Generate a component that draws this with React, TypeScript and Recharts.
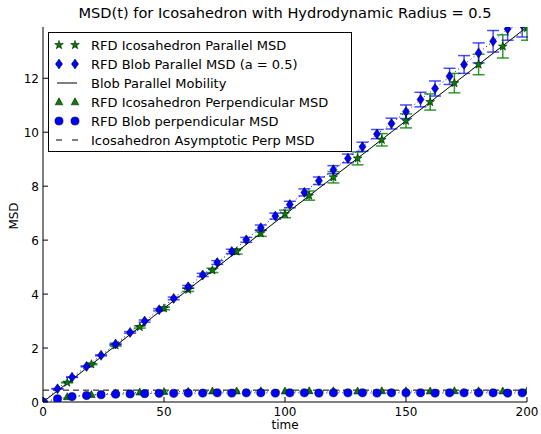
import React from "react";
import { ComposedChart, Scatter, Line, XAxis, YAxis, ErrorBar } from "recharts";

const blobTimes = [0, 6, 12, 18, 24, 30, 36, 42, 48, 54, 60, 66, 72, 78, 84, 90, 96, 102, 108, 114, 120, 126, 132, 138, 144, 150, 156, 162, 168, 174, 180, 186, 192, 198];
const blobParMsd = [0, 0.49, 0.92, 1.32, 1.73, 2.15, 2.58, 3.0, 3.42, 3.84, 4.27, 4.71, 5.17, 5.58, 6.01, 6.46, 6.89, 7.32, 7.77, 8.2, 8.61, 9.03, 9.46, 9.93, 10.32, 10.76, 11.21, 11.62, 12.07, 12.51, 12.94, 13.37, 13.83, 13.98];
const blobParErr = [0, 0.01, 0.01, 0.02, 0.02, 0.03, 0.03, 0.04, 0.04, 0.05, 0.05, 0.06, 0.07, 0.08, 0.09, 0.1, 0.11, 0.12, 0.13, 0.14, 0.15, 0.16, 0.17, 0.17, 0.2, 0.25, 0.27, 0.28, 0.3, 0.33, 0.37, 0.4, 0.42, 0.45];
const blobPerpMsd = [0, 0.12, 0.2, 0.24, 0.27, 0.29, 0.3, 0.31, 0.32, 0.32, 0.33, 0.33, 0.34, 0.33, 0.34, 0.34, 0.33, 0.34, 0.34, 0.33, 0.34, 0.34, 0.34, 0.33, 0.34, 0.34, 0.34, 0.33, 0.34, 0.34, 0.34, 0.34, 0.33, 0.34];

const icoTimes = [10, 20, 30, 40, 50, 60, 70, 80, 90, 100, 110, 120, 130, 140, 150, 160, 170, 180, 190, 200];
const icoParMsd = [0.72, 1.4, 2.1, 2.78, 3.47, 4.16, 4.88, 5.58, 6.26, 6.97, 7.65, 8.33, 9.03, 9.72, 10.42, 11.12, 11.82, 12.51, 13.18, 13.86];
const icoParErr = [0.01, 0.02, 0.03, 0.04, 0.05, 0.06, 0.08, 0.1, 0.12, 0.14, 0.17, 0.21, 0.24, 0.23, 0.26, 0.3, 0.36, 0.38, 0.43, 0.45];
const icoPerpMsd = [0.19, 0.27, 0.33, 0.36, 0.38, 0.39, 0.4, 0.4, 0.41, 0.4, 0.41, 0.41, 0.4, 0.41, 0.41, 0.4, 0.41, 0.41, 0.4, 0.41];

const mobilityT = [0, 200];
const mobilityMsd = [0, 13.9];
const asymT = [0, 200];
const asymMsd = [0.44, 0.44];

const xTicks = [0, 50, 100, 150, 200];
const yTicks = [0, 2, 4, 6, 8, 10, 12];

const legendLabels = [
  "RFD Icosahedron Parallel MSD",
  "RFD Blob Parallel MSD (a = 0.5)",
  "Blob Parallel Mobility",
  "RFD Icosahedron Perpendicular MSD",
  "RFD Blob perpendicular MSD",
  "Icosahedron Asymptotic Perp MSD",
];

const BLUE = "#0000ff";
const GREEN = "#008000";
const FONT = '"DejaVu Sans", sans-serif';
const MARGIN = { top: 27, right: 14, bottom: 0, left: 0 };

const zip = (ts: number[], vs: number[], es?: number[]) =>
  ts.map((t, i) => ({ t, v: vs[i], e: es ? es[i] : 0 }));

const icoPar = zip(icoTimes, icoParMsd, icoParErr);
const blobPar = zip(blobTimes, blobParMsd, blobParErr);
const icoPerp = zip(icoTimes, icoPerpMsd);
const blobPerp = zip(blobTimes, blobPerpMsd);
const mobility = zip(mobilityT, mobilityMsd);
const asym = zip(asymT, asymMsd);

// markers, roughly matplotlib's '*', 'd', '^', 'o'
const Star = ({ cx, cy }: { cx: number; cy: number }) => {
  const pts: string[] = [];
  for (let i = 0; i < 10; i++) {
    const r = i % 2 === 0 ? 4.6 : 1.9;
    const a = -Math.PI / 2 + (i * Math.PI) / 5;
    pts.push(`${cx + r * Math.cos(a)},${cy + r * Math.sin(a)}`);
  }
  return <polygon points={pts.join(" ")} fill={GREEN} stroke="#000" strokeWidth={0.5} />;
};
const Diamond = ({ cx, cy }: { cx: number; cy: number }) => (
  <polygon
    points={`${cx},${cy - 5} ${cx + 3.5},${cy} ${cx},${cy + 5} ${cx - 3.5},${cy}`}
    fill={BLUE} stroke="#000" strokeWidth={0.5}
  />
);
const Tri = ({ cx, cy }: { cx: number; cy: number }) => (
  <polygon
    points={`${cx},${cy - 4.2} ${cx + 3.8},${cy + 2.8} ${cx - 3.8},${cy + 2.8}`}
    fill={GREEN} stroke="#000" strokeWidth={0.5}
  />
);
const Dot = ({ cx, cy }: { cx: number; cy: number }) => (
  <circle cx={cx} cy={cy} r={4.1} fill={BLUE} stroke="#000" strokeWidth={0.5} />
);

// inward ticks like matplotlib
const BottomTick = ({ x, y, payload }: any) => (
  <g>
    <line x1={x} x2={x} y1={y} y2={y - 5} stroke="#000" />
    <text x={x} y={y + 14} textAnchor="middle" fontSize={12} fontFamily={FONT} fill="#000">{payload.value}</text>
  </g>
);
const LeftTick = ({ x, y, payload }: any) => (
  <g>
    <line x1={x} x2={x + 5} y1={y} y2={y} stroke="#000" />
    <text x={x - 4} y={y + 4.5} textAnchor="end" fontSize={12} fontFamily={FONT} fill="#000">{payload.value}</text>
  </g>
);
const TopTick = ({ x, y }: any) => <line x1={x} x2={x} y1={y} y2={y + 5} stroke="#000" />;
const RightTick = ({ x, y }: any) => <line x1={x} x2={x - 5} y1={y} y2={y} stroke="#000" />;

const LegendBox = () => {
  const rowY = (i: number) => 13 + i * 19;
  const mx = [11, 27];
  return (
    <svg width={304} height={120} style={{ position: "absolute", left: 48, top: 32 }}>
      <rect x={0.5} y={0.5} width={303} height={119} fill="#fff" stroke="#000" />
      {mx.map((x) => <Star key={"s" + x} cx={x} cy={rowY(0)} />)}
      {mx.map((x) => <Diamond key={"d" + x} cx={x} cy={rowY(1)} />)}
      <line x1={9} x2={29} y1={rowY(2)} y2={rowY(2)} stroke="#000" />
      {mx.map((x) => <Tri key={"t" + x} cx={x} cy={rowY(3)} />)}
      {mx.map((x) => <Dot key={"o" + x} cx={x} cy={rowY(4)} />)}
      <line x1={8} x2={14} y1={rowY(5)} y2={rowY(5)} stroke="#000" />
      <line x1={24} x2={30} y1={rowY(5)} y2={rowY(5)} stroke="#000" />
      {legendLabels.map((l, i) => (
        <text key={l} x={43} y={rowY(i) + 4.5} fontSize={13} fontFamily={FONT} fill="#000">{l}</text>
      ))}
    </svg>
  );
};

export default function App() {
  return (
    <div style={{ position: "absolute", left: 0, top: 0, width: 541, height: 434, background: "#fff", fontFamily: FONT }}>
      <ComposedChart width={541} height={434} margin={MARGIN}>
        <XAxis dataKey="t" type="number" domain={[0, 200]} ticks={xTicks} allowDataOverflow
          height={32} tickSize={0} tickMargin={0} tick={<BottomTick />} tickLine={false}
          axisLine={{ stroke: "#000" }} />
        <XAxis xAxisId="top" orientation="top" type="number" domain={[0, 200]} ticks={xTicks} allowDataOverflow
          height={0} tickSize={0} tickMargin={0} tick={<TopTick />} tickLine={false}
          axisLine={{ stroke: "#000" }} />
        <YAxis dataKey="v" type="number" domain={[0, 13.9]} ticks={yTicks} allowDataOverflow
          width={43} tickSize={0} tickMargin={0} tick={<LeftTick />} tickLine={false}
          axisLine={{ stroke: "#000" }} />

        <Scatter data={icoPar} dataKey="v" isAnimationActive={false}
          line={{ stroke: GREEN, strokeDasharray: "1 3" }}
          shape={(p: any) => <Star cx={p.cx} cy={p.cy} />}>
          <ErrorBar dataKey="e" direction="y" width={6} stroke={GREEN} strokeOpacity={0.8} isAnimationActive={false} />
        </Scatter>
        <Scatter data={blobPar} dataKey="v" isAnimationActive={false}
          line={{ stroke: BLUE, strokeDasharray: "1 3" }}
          shape={(p: any) => <Diamond cx={p.cx} cy={p.cy} />}>
          <ErrorBar dataKey="e" direction="y" width={6} stroke={BLUE} strokeOpacity={0.7} isAnimationActive={false} />
        </Scatter>
        <Line data={mobility} dataKey="v" type="linear" stroke="#000" strokeWidth={1} dot={false} isAnimationActive={false} />
        <Scatter data={icoPerp} dataKey="v" isAnimationActive={false}
          line={{ stroke: GREEN, strokeDasharray: "1 3" }}
          shape={(p: any) => <Tri cx={p.cx} cy={p.cy} />} />
        <Scatter data={blobPerp} dataKey="v" isAnimationActive={false}
          line={{ stroke: BLUE, strokeDasharray: "1 3" }}
          shape={(p: any) => <Dot cx={p.cx} cy={p.cy} />} />
        <Line data={asym} dataKey="v" type="linear" stroke="#000" strokeWidth={1} strokeDasharray="6 4" dot={false} isAnimationActive={false} />
      </ComposedChart>
      {/* clip marks that spill past the top and right frame */}
      <div style={{ position: "absolute", left: 0, top: 0, width: 541, height: 26.5, background: "#fff" }} />
      <div style={{ position: "absolute", left: 527.5, top: 0, width: 14, height: 401.5, background: "#fff" }} />
      {/* right-hand frame drawn after the clip so it stays visible */}
      <div style={{ position: "absolute", left: 0, top: 0, pointerEvents: "none" }}>
        <ComposedChart width={541} height={434} margin={MARGIN} data={[]}>
          <XAxis type="number" domain={[0, 200]} ticks={xTicks} height={32} tick={false} axisLine={false} tickLine={false} />
          <YAxis type="number" domain={[0, 13.9]} ticks={yTicks} width={43} tick={false} axisLine={false} tickLine={false} />
          <YAxis yAxisId="right" orientation="right" type="number" domain={[0, 13.9]} ticks={yTicks} allowDataOverflow
            width={0} tickSize={0} tickMargin={0} tick={<RightTick />} tickLine={false}
            axisLine={{ stroke: "#000" }} />
        </ComposedChart>
      </div>
      <div style={{ position: "absolute", left: 43, width: 484, top: 4, textAlign: "center", fontSize: 14.6, color: "#000" }}>
        MSD(t) for Icosahedron with Hydrodynamic Radius = 0.5
      </div>
      <div style={{ position: "absolute", left: 0, top: 216, width: 28, height: 0 }}>
        <div style={{ position: "absolute", left: 14, top: 0, transform: "translate(-50%, -50%) rotate(-90deg)", fontSize: 12, whiteSpace: "nowrap" }}>MSD</div>
      </div>
      <div style={{ position: "absolute", left: 43, width: 484, top: 418, textAlign: "center", fontSize: 12 }}>time</div>
      <LegendBox />
    </div>
  );
}
